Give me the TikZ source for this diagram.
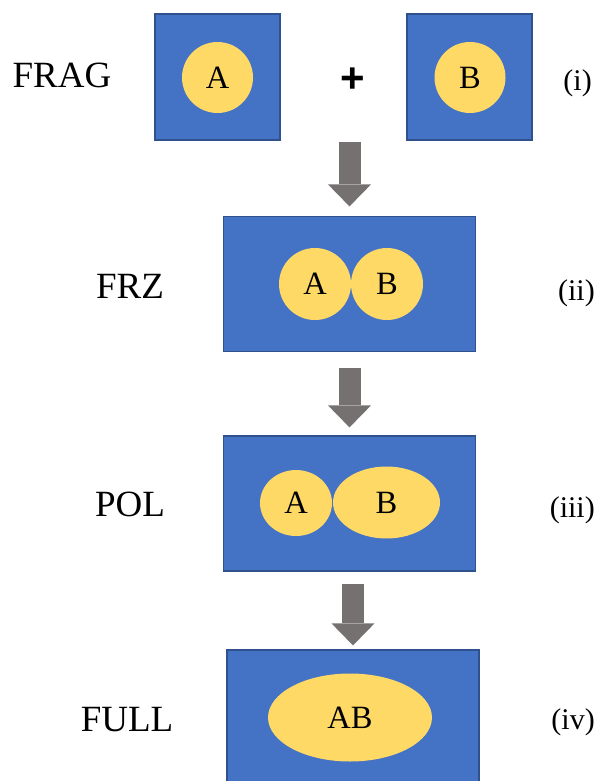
\documentclass[tikz,border=0pt]{standalone}
\usepackage{fontspec}
\setmainfont{Liberation Serif}
\newfontfamily\plusfont{Liberation Sans}
\usetikzlibrary{shapes.geometric,arrows.meta,calc}
\definecolor{boxblue}{HTML}{4472C4}
\definecolor{boxedge}{HTML}{2F528F}
\definecolor{blobyellow}{HTML}{FFD966}
\definecolor{arrowgray}{HTML}{767171}
\begin{document}
\begin{tikzpicture}[x=1pt,y=-1pt,
 panel/.style={rectangle, fill=boxblue, draw=boxedge, line width=1.2pt, inner sep=0pt},
 blob/.style={ellipse, fill=blobyellow, inner sep=0pt, font=\fontsize{32.5}{32.5}\selectfont},
 stage/.style={font=\fontsize{37}{37}\selectfont, anchor=base, inner sep=0pt},
 tag/.style={font=\fontsize{30}{30}\selectfont, anchor=base east, inner sep=0pt},
 blockarrow/.style={draw=arrowgray, line width=22pt, -{Triangle[width=43pt,length=22pt,line width=0pt]}}]
\path[use as bounding box, clip] (0,0) rectangle (597,781);

% stage i
\node[panel, minimum width=125pt, minimum height=126pt] (pa) at (217.5,77) {};
\node[blob, minimum width=71pt, minimum height=71pt] (ea) at (217.5,77.5) {A};
\node[panel, minimum width=125pt, minimum height=126pt] (pb) at (469.5,77) {};
\node[blob, minimum width=71pt, minimum height=71pt] (eb) at (470,77.5) {B};
\node[font=\plusfont\bfseries\fontsize{42}{42}\selectfont, inner sep=0pt] (plus) at (352.5,80) {+};
\node[stage] (l1) at (62,88) {FRAG};
\node[tag] (t1) at (592,91) {(i)};

% stage ii
\node[panel, minimum width=252pt, minimum height=135pt] (p2) at (349.5,284) {};
\node[blob, minimum width=72pt, minimum height=72pt] (c2a) at (315,284) {A};
\node[blob, minimum width=72pt, minimum height=72pt] (c2b) at (387,284) {B};
\node[stage] (l2) at (130,298) {FRZ};
\node[tag] (t2) at (595,300) {(ii)};

% stage iii
\node[panel, minimum width=252pt, minimum height=135pt] (p3) at (349.5,503.5) {};
\node[blob, minimum width=72pt, minimum height=66pt] (c3a) at (296,503) {A};
\node[blob, minimum width=107pt, minimum height=72pt] (c3b) at (386.5,502.5) {B};
\node[stage] (l3) at (130,516) {POL};
\node[tag] (t3) at (595,517) {(iii)};

% stage iv
\node[panel, minimum width=252pt, minimum height=135pt] (p4) at (353,717.5) {};
\node[blob, minimum width=164pt, minimum height=88pt] (c4) at (350,717.5) {AB};
\node[stage] (l4) at (127,731) {FULL};
\node[tag] (t4) at (595,729) {(iv)};

% arrows
\draw[blockarrow] ($(p2.north)+(0,-73.5)$) -- ($(p2.north)+(0,-9.5)$);
\draw[blockarrow] ($(p2.south)+(0,15.5)$) -- ($(p3.north)+(0,-8)$);
\draw[blockarrow] ($(p4.north |- p3.south)+(0,12)$) -- ($(p4.north)+(0,-4)$);
\end{tikzpicture}
\end{document}
